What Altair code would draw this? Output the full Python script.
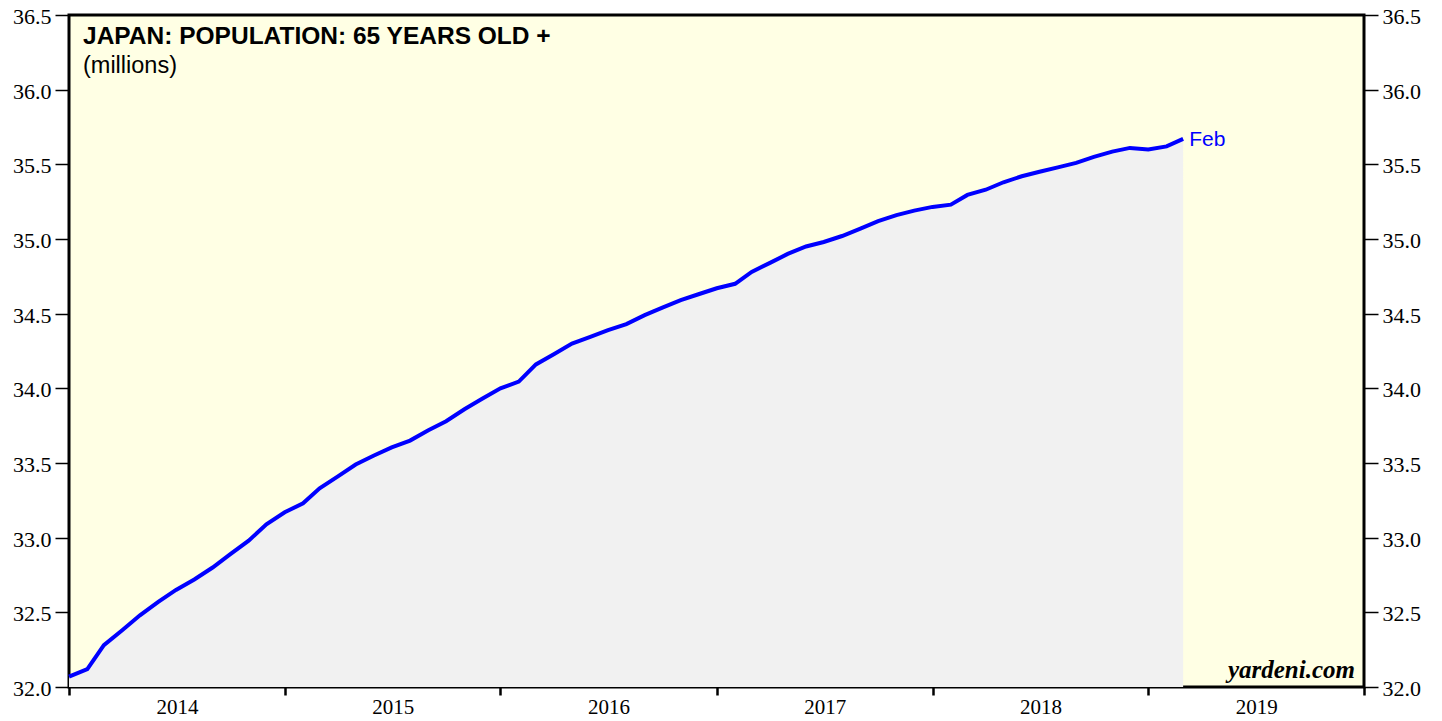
import altair as alt
import pandas as pd

# ---- data ----
first_month = "2013-12"
months = [str(p) for p in pd.period_range(first_month, periods=63, freq="M")]
values = [
    32.07, 32.12, 32.28, 32.38, 32.48, 32.57, 32.65, 32.72, 32.80, 32.89,
    32.98, 33.09, 33.17, 33.23, 33.33, 33.41, 33.49, 33.55, 33.605, 33.65,
    33.72, 33.78, 33.86, 33.93, 34.00, 34.045, 34.16, 34.23, 34.30, 34.345,
    34.39, 34.43, 34.49, 34.54, 34.59, 34.63, 34.67, 34.70, 34.78, 34.84,
    34.90, 34.95, 34.98, 35.02, 35.07, 35.12, 35.16, 35.19, 35.215, 35.23,
    35.295, 35.33, 35.38, 35.42, 35.45, 35.48, 35.51, 35.55, 35.585, 35.61,
    35.60, 35.62, 35.67,
]
years = [2014, 2015, 2016, 2017, 2018, 2019, 2020]
y_ticks = [32.0, 32.5, 33.0, 33.5, 34.0, 34.5, 35.0, 35.5, 36.0, 36.5]
title_text = "JAPAN: POPULATION: 65 YEARS OLD +"
subtitle_text = "(millions)"
last_label = "Feb"
source_text = "yardeni.com"

# monthly values are plotted at month end (= first day of next month)
dates = [(pd.Period(m) + 1).start_time.strftime("%Y-%m-%d") for m in months]
df = pd.DataFrame({"date": dates, "value": values})
df_last = df.tail(1).assign(label=last_label)

W, H = 1295, 672
serif = "Liberation Serif"
sans = "Liberation Sans"

x_dom = [alt.DateTime(year=years[0], month=1, date=1, utc=True),
         alt.DateTime(year=years[-1], month=1, date=1, utc=True)]
x_vals = [alt.DateTime(year=y, month=1, date=1, utc=True) for y in years]

x_enc = alt.X(
    "date:T",
    scale=alt.Scale(type="utc", domain=x_dom),
    axis=alt.Axis(
        values=x_vals, title=None, domain=False, grid=False,
        tickSize=8, tickWidth=2.5, tickColor="black",
        labelExpr=f"utcFormat(datum.value, '%Y') == '{years[-1]}' ? '' : utcFormat(datum.value, '%Y')",
        labelOffset=108, labelFlush=False, labelOverlap=False,
        labelPadding=1, labelFont=serif, labelFontSize=21,
        labelColor="black", labelAngle=0, labelAlign="center",
    ),
)
y_scale = alt.Scale(domain=[y_ticks[0], y_ticks[-1]], zero=False, nice=False)


def y_axis(orient):
    return alt.Axis(
        orient=orient, values=y_ticks, format=".1f", title=None, domain=False,
        grid=False, tickSize=14, tickWidth=1.5, tickColor="black",
        labelFont=serif, labelFontSize=22, labelColor="black", labelPadding=4,
        labelOffset=1.5, labelFlush=False, labelOverlap=False,
    )


area = alt.Chart(df).mark_area(color="#f1f1f1", opacity=1).encode(
    x=x_enc,
    y=alt.Y("value:Q", scale=y_scale, axis=y_axis("left")),
    y2=alt.datum(y_ticks[0]),
)

line = alt.Chart(df).mark_line(color="#0000ff", strokeWidth=4).encode(
    x=x_enc,
    y=alt.Y("value:Q", scale=y_scale, axis=y_axis("right")),
)

feb = alt.Chart(df_last).mark_text(
    align="left", baseline="middle", dx=6, dy=1, font=sans, fontSize=21, color="#0000ff"
).encode(
    x=x_enc,
    y=alt.Y("value:Q", scale=y_scale, axis=None),
    text="label:N",
)

title = alt.Chart(pd.DataFrame({"t": [title_text]})).mark_text(
    align="left", baseline="alphabetic", font=sans, fontSize=24.5, fontWeight="bold",
    color="black",
).encode(x=alt.value(14), y=alt.value(29), text="t:N")

subtitle = alt.Chart(pd.DataFrame({"t": [subtitle_text]})).mark_text(
    align="left", baseline="alphabetic", font=sans, fontSize=23.5, color="black",
).encode(x=alt.value(14), y=alt.value(58), text="t:N")

source = alt.Chart(pd.DataFrame({"t": [source_text]})).mark_text(
    align="right", baseline="alphabetic", font=serif, fontSize=25,
    fontWeight="bold", fontStyle="italic", color="black",
).encode(x=alt.value(W - 9), y=alt.value(H - 9), text="t:N")

chart = (
    alt.layer(area, line, feb, title, subtitle, source)
    .resolve_axis(y="independent")
    .properties(
        width=W, height=H,
        padding={"left": 61, "top": 7, "right": 70, "bottom": 34},
        autosize=alt.AutoSizeParams(type="none"),
        background="white",
    )
    .configure_view(fill="#ffffe4", stroke="black", strokeWidth=3)
)

chart.save("out.html", embed_options={"renderer": "svg", "actions": False})
